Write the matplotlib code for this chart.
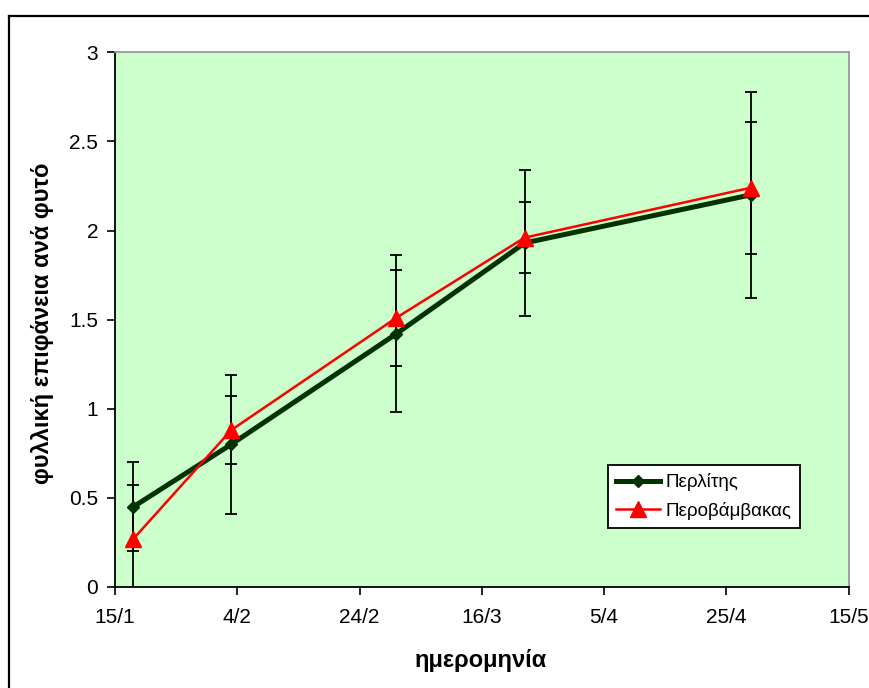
import datetime as dt
import matplotlib
matplotlib.use("Agg")
import matplotlib.pyplot as plt
import matplotlib.dates as mdates
from matplotlib.lines import Line2D

plt.rcParams['font.family'] = ['Liberation Sans', 'DejaVu Sans']

YEAR = 2007
dates = ["18/1", "3/2", "2/3", "23/3", "29/4"]
perlitis = [0.45, 0.80, 1.42, 1.93, 2.20]
perlitis_err = [0.25, 0.39, 0.44, 0.41, 0.58]
perovamvakas = [0.27, 0.88, 1.51, 1.96, 2.24]
perovamvakas_err = [0.30, 0.19, 0.27, 0.20, 0.37]
xtick_labels = ["15/1", "4/2", "24/2", "16/3", "5/4", "25/4", "15/5"]
ytick_values = [0, 0.5, 1, 1.5, 2, 2.5, 3]
ytick_labels = ["0", "0.5", "1", "1.5", "2", "2.5", "3"]


def parse(s):
    d, m = s.split("/")
    return dt.datetime(YEAR, int(m), int(d))


x = [parse(s) for s in dates]
xt = [parse(s) for s in xtick_labels]

fig = plt.figure(figsize=(8.69, 6.88), dpi=100)
W, H = 869, 688
ax = fig.add_axes([115 / W, 1 - 587 / H, (848.5 - 115) / W, (587 - 52.3) / H])
ax.set_facecolor('#CCFFCC')

ax.errorbar(x, perlitis, yerr=perlitis_err, fmt='none', ecolor='black',
            elinewidth=1.3, capsize=4.3, capthick=1.3, zorder=2)
ax.errorbar(x, perovamvakas, yerr=perovamvakas_err, fmt='none', ecolor='black',
            elinewidth=1.3, capsize=4.3, capthick=1.3, zorder=2)

ax.plot(x, perlitis, color='#003300', lw=3.6, marker='D', ms=6,
        label='Περλίτης', zorder=3)
ax.plot(x, perovamvakas, color='#FF0000', lw=1.8, marker='^', ms=12,
        label='Περοβάμβακας', zorder=4)

ax.set_xlim(xt[0], xt[-1])
ax.set_ylim(0, 3)
ax.set_xticks(xt)
ax.set_xticklabels(xtick_labels)
ax.set_yticks(ytick_values)
ax.set_yticklabels(ytick_labels)
ax.tick_params(axis='both', direction='out', length=6, width=1.2, labelsize=15,
               colors='black')
ax.tick_params(axis='x', pad=9)
ax.tick_params(axis='y', pad=6)

for s in ['left', 'bottom']:
    ax.spines[s].set_color('black')
    ax.spines[s].set_linewidth(1.3)
for s in ['top', 'right']:
    ax.spines[s].set_color('#999999')
    ax.spines[s].set_linewidth(1.3)

fig.text(43 / W, 1 - 323 / H, 'φυλλική επιφάνεια ανά φυτό', rotation=90,
         ha='center', va='center', fontsize=17, fontweight='bold')
fig.text(481 / W, 1 - 660 / H, 'ημερομηνία', ha='center', va='center',
         fontsize=17, fontweight='bold')

leg = ax.legend(loc='upper left', bbox_to_anchor=((608 - 115) / (848.5 - 115),
                                                  (587 - 465) / (587 - 52.3)),
                frameon=True, fancybox=False, fontsize=13.5, borderpad=0.45,
                handlelength=2.3, labelspacing=0.55, handletextpad=0.3,
                borderaxespad=0)
leg.get_frame().set_edgecolor('black')
leg.get_frame().set_linewidth(1.3)
leg.get_frame().set_facecolor('white')
leg.get_frame().set_alpha(1)

fig.add_artist(Line2D([8.5 / W, 8.5 / W], [0, 1 - 15.5 / H], color='black', lw=1.6))
fig.add_artist(Line2D([8.5 / W, 1], [1 - 15.5 / H, 1 - 15.5 / H], color='black', lw=1.6))

fig.savefig('out.png', dpi=100)
